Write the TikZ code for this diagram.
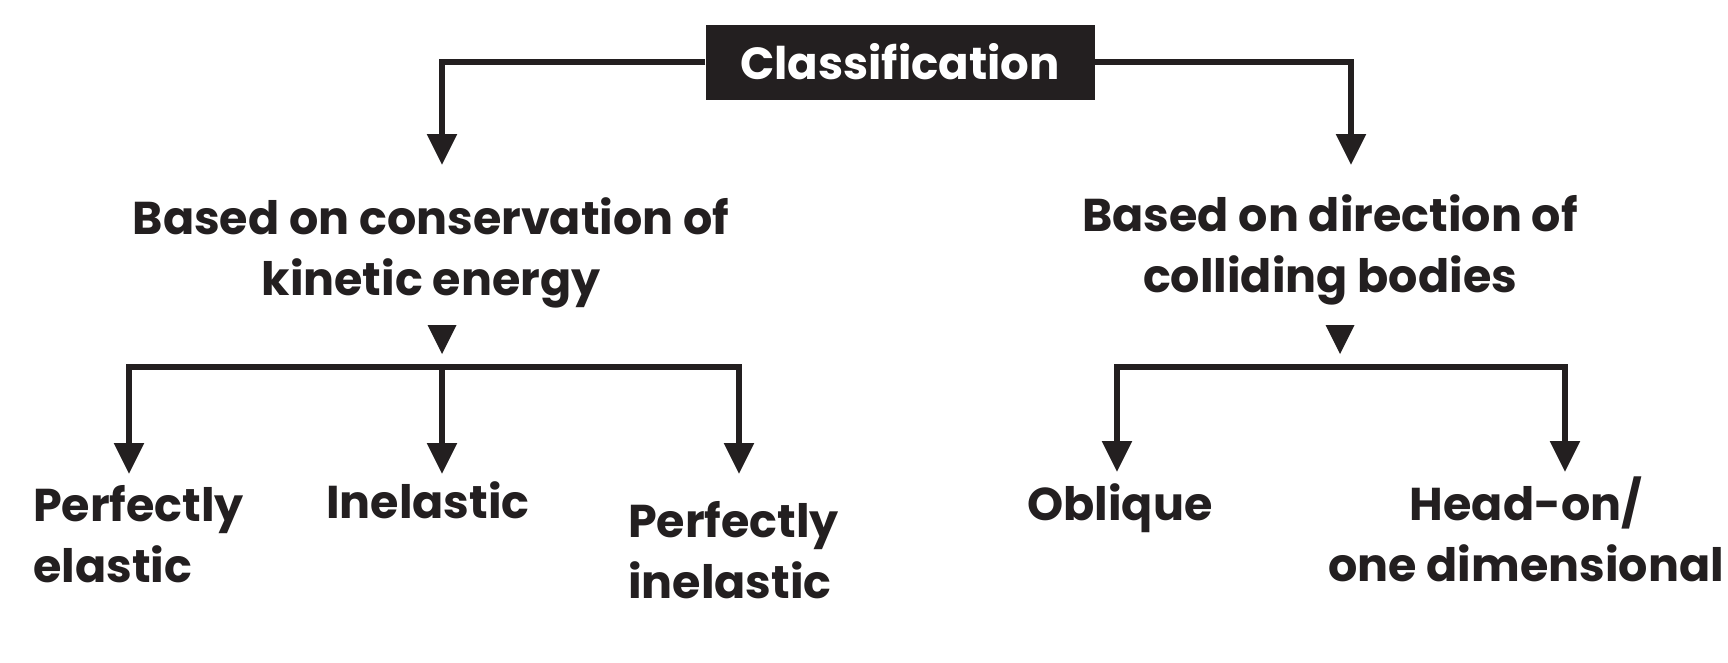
\documentclass[tikz,border=0pt]{standalone}
\usepackage{fontspec}
\setmainfont{Poppins}
\usetikzlibrary{arrows.meta}
\definecolor{ink}{HTML}{231F20}
\begin{document}
\begin{tikzpicture}[x=1pt,y=-1pt,
  txt/.style={font=\fontsize{46}{61}\selectfont\bfseries, text=ink, inner sep=0pt},
  cbox/.style={fill=ink, text=white, font=\fontsize{45}{61}\selectfont\bfseries,
     minimum width=389pt, minimum height=75pt, inner sep=0pt},
  conn/.style={draw=ink, line width=5.5pt, line join=miter},
  arr/.style={conn, -{Triangle[length=31pt,width=29pt]}}]
\useasboundingbox (0,0) rectangle (1728,662);
\fill[white] (0,0) rectangle (1728,662);
% root
\node[cbox] (cls) at (900,62) {Classification};
% middle
\node[txt, align=center, anchor=base] (kin) at (431,295) {Based on conservation of\\kinetic energy};
\node[txt, align=center, anchor=base] (dir) at (1330,292) {Based on direction of\\colliding bodies};
\coordinate (ka) at (442,165);
\coordinate (da) at (1351,165);
\draw[arr] (cls.west) -| (ka);
\draw[arr] (cls.east) -| (da);
% small triangles
\fill[ink] (427.5,325) -- (456.5,325) -- (442,354) -- cycle;
\fill[ink] (1325.5,325) -- (1354.5,325) -- (1340,354) -- cycle;
% left bar
\coordinate (kb) at (442,367);
\coordinate (t1) at (129,474);
\coordinate (t2) at (442,474);
\coordinate (t3) at (739,474);
\draw[arr] (kb) -| (t1);
\draw[arr] (kb) -- (t2);
\draw[arr] (kb) -| (t3);
% right bar
\coordinate (db) at (1340,367);
\coordinate (t4) at (1117,472);
\coordinate (t5) at (1565,472);
\draw[arr] (db) -| (t4);
\draw[arr] (db) -| (t5);
% leaves
\node[txt, align=left, anchor=base west] (pe) at (33,582) {Perfectly\\elastic};
\node[txt, anchor=base] (in) at (428,518) {Inelastic};
\node[txt, align=left, anchor=base west] (pi) at (628,598) {Perfectly\\inelastic};
\node[txt, anchor=base] (ob) at (1120,520) {Oblique};
\node[txt, align=center, anchor=base] (ho) at (1526,581) {Head-on/\\one dimensional};
\end{tikzpicture}
\end{document}
